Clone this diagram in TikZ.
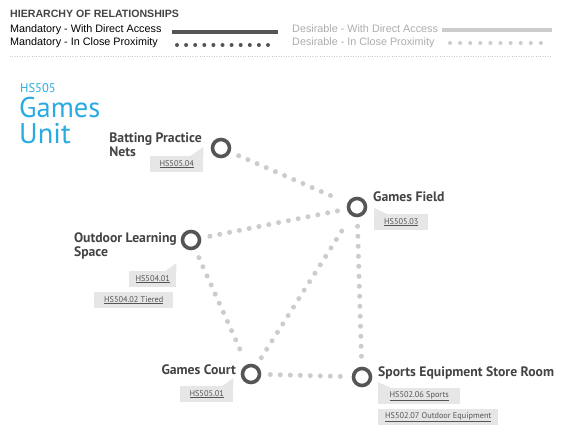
\documentclass[tikz,border=0pt]{standalone}
\usepackage{fontspec}
\setmainfont{PT Sans}
\newfontfamily\legfont{Liberation Sans}
\usetikzlibrary{positioning}
\definecolor{dk}{HTML}{555555}
\definecolor{lt}{HTML}{CCCCCC}
\definecolor{tagbg}{HTML}{E6E6E6}
\definecolor{blu}{HTML}{29ABE2}
\definecolor{txt}{HTML}{444444}
\tikzset{
  room/.style={circle, draw=dk, line width=3.6pt, minimum size=17pt, inner sep=0pt},
  desdot/.style={draw=lt, line width=5pt, line cap=round, dash pattern=on 0pt off 10pt, shorten >=9pt, shorten <=9pt},
  lbl/.style={font=\bfseries\fontsize{13.7}{12}\selectfont, text=txt, inner sep=0pt, align=left},
  tag/.style={fill=tagbg, text=dk, font=\fontsize{8.3}{8.3}\selectfont, inner sep=0pt, minimum height=16pt},
  leg/.style={font=\legfont\fontsize{10.8}{10.8}\selectfont, inner sep=0pt, anchor=west},
}
\newcommand{\ul}[1]{\underline{#1}}
\begin{document}
\begin{tikzpicture}[x=1pt,y=-1pt]
\useasboundingbox (0,0) rectangle (565,439);
\fill[white] (0,0) rectangle (565,439);
% legend
\node[leg, font=\legfont\bfseries\fontsize{10.6}{10.6}\selectfont, text=txt] (hdr) at (10,14) {HIERARCHY OF RELATIONSHIPS};
\node[leg, text=black] (m1) at (10,30) {Mandatory - With Direct Access};
\node[leg, text=black] (m2) at (10,43) {Mandatory - In Close Proximity};
\node[leg, text=lt!85!black] (d1) at (292,29) {Desirable - With Direct Access};
\node[leg, text=lt!85!black] (d2) at (292,43) {Desirable - In Close Proximity};
\coordinate (m1a) at (172,32); \coordinate (m1b) at (278,32);
\coordinate (m2a) at (177,45); \coordinate (m2b) at (277,45);
\coordinate (d1a) at (442,30); \coordinate (d1b) at (552,30);
\coordinate (d2a) at (450,43); \coordinate (d2b) at (551,43);
\draw[dk, line width=4pt] (m1a) -- (m1b);
\draw[dk, line width=4pt, line cap=round, dash pattern=on 0pt off 9.1pt] (m2a) -- (m2b);
\draw[lt, line width=4pt] (d1a) -- (d1b);
\draw[lt, line width=4pt, line cap=round, dash pattern=on 0pt off 10.1pt] (d2a) -- (d2b);
\coordinate (sepa) at (10,56); \coordinate (sepb) at (552,56);
\draw[lt, line width=0.8pt, dash pattern=on 0.8pt off 1.6pt] (sepa) -- (sepb);
% title
\node[anchor=north west, inner sep=0pt, text=blu, font=\fontsize{12.5}{12}\selectfont] (code) at (20,83) {HS505};
\node[anchor=north west, inner sep=0pt, text=blu, font=\fontsize{28.5}{26}\selectfont, align=left] (title) at (19,97) {Games\\Unit};
% rooms
\node[room] (bpn) at (221,148) {};
\node[room] (gf) at (357,207) {};
\node[room] (ols) at (191,240) {};
\node[room] (gc) at (251,374) {};
\node[room] (ses) at (362,377) {};
% connectors
\draw[desdot] (bpn) -- (gf);
\draw[desdot] (ols) -- (gf);
\draw[desdot] (ols) -- (gc);
\draw[desdot] (gc) -- (gf);
\draw[desdot] (gf) -- (ses);
\draw[desdot] (gc) -- (ses);
% labels
\node[lbl, anchor=north east] (bpnl) at (202,133) {Batting Practice\\Nets};
\node[lbl, anchor=north west] (gfl) at (373,192) {Games Field};
\node[lbl, anchor=north east] (olsl) at (177,233) {Outdoor Learning\\Space};
\node[lbl, anchor=north east] (gcl) at (236,365) {Games Court};
\node[lbl, anchor=north west] (sesl) at (378,367) {Sports Equipment Store Room};
% tags
\node[tag, minimum width=53pt, anchor=north west] (t1) at (150,156) {\ul{HS505.04}};
\fill[tagbg] (t1.north east) -- ++(0,-9) -- ++(-13,9) -- cycle;
\node[tag, minimum width=54pt, anchor=north west] (t2) at (374,214) {\ul{HS505.03}};
\fill[tagbg] (t2.north west) -- ++(0,-6) -- ++(13,6) -- cycle;
\node[tag, minimum width=47pt, anchor=north west] (t3) at (129,271) {\ul{HS504.01}};
\fill[tagbg] (t3.north east) -- ++(0,-8) -- ++(-11,8) -- cycle;
\node[tag, minimum width=79pt, anchor=north west] (t4) at (94,292) {\ul{HS504.02 Tiered}};
\node[tag, minimum width=53pt, anchor=north west] (t5) at (180,386) {\ul{HS505.01}};
\fill[tagbg] (t5.north east) -- ++(0,-8) -- ++(-11,8) -- cycle;
\node[tag, minimum width=82pt, anchor=north west] (t6) at (378,388) {\ul{HS502.06 Sports}};
\fill[tagbg] (t6.north west) -- ++(0,-6) -- ++(13,6) -- cycle;
\node[tag, minimum width=120pt, anchor=north west] (t7) at (378,409) {\ul{HS502.07 Outdoor Equipment}};
\end{tikzpicture}
\end{document}
